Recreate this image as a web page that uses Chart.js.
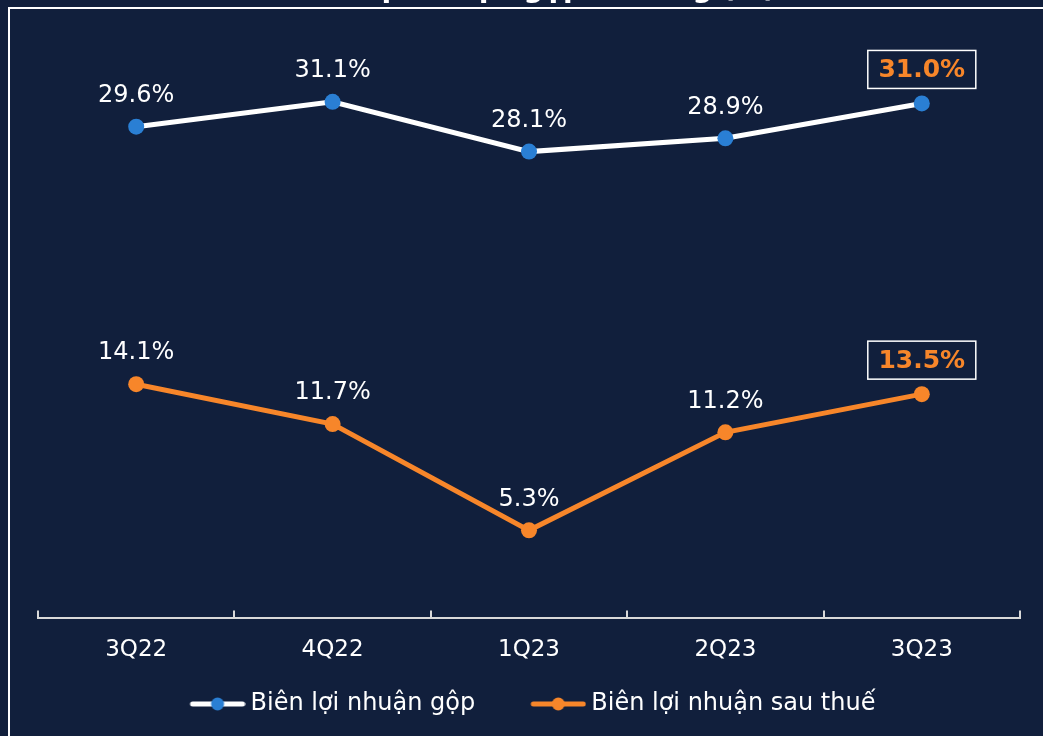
<!DOCTYPE html>
<html><head><meta charset="utf-8">
<script src="https://cdn.jsdelivr.net/npm/chart.js@4"></script>
<style>
html,body{margin:0;padding:0;background:#111f3c;overflow:hidden}
#wrap{width:1043px;height:736px;position:relative}
</style></head>
<body><div id="wrap"><canvas id="c" width="1043" height="736"></canvas></div>
<script>
const categories = ['3Q22', '4Q22', '1Q23', '2Q23', '3Q23'];
const grossMargin = [29.6, 31.1, 28.1, 28.9, 31.0];
const netMargin = [14.1, 11.7, 5.3, 11.2, 13.5];
const seriesNames = ['Biên lợi nhuận gộp', 'Biên lợi nhuận sau thuế'];
const yMin = 0, yMax = 35;
const titleText = 'Biên lợi nhuận gộp và ròng (%)';

const BG = '#111f3c', WHITE = '#ffffff', ORANGE = '#f7862a', BLUE = '#2a7fd4', AXIS = '#d9d9d9';
const FONT = "'DejaVu Sans', Verdana, sans-serif";
Chart.defaults.font.family = FONT;

const LEG_BOX = 94;          // legend box width (includes gap before the icon)
function legendIcon(lineColor, dotColor) {
  const c = document.createElement('canvas');
  c.width = LEG_BOX + 14; c.height = 16;
  const x = c.getContext('2d');
  const o = c.width - 56;
  x.strokeStyle = lineColor; x.lineWidth = 5; x.lineCap = 'round';
  x.beginPath(); x.moveTo(o + 3, 8); x.lineTo(o + 53, 8); x.stroke();
  x.fillStyle = dotColor; x.beginPath(); x.arc(o + 28, 8, 6.5, 0, Math.PI * 2); x.fill();
  return c;
}
const legendIcons = [legendIcon(WHITE, BLUE), legendIcon(ORANGE, ORANGE)];

const bgPlugin = {
  id: 'bg',
  beforeDraw(chart) {
    const ctx = chart.ctx;
    ctx.save();
    ctx.fillStyle = BG;
    ctx.fillRect(0, 0, chart.width, chart.height);
    ctx.font = 'bold 28px ' + FONT;
    ctx.fillStyle = WHITE;
    ctx.textAlign = 'right';
    ctx.textBaseline = 'alphabetic';
    ctx.fillText(titleText, 776, -3);
    ctx.strokeStyle = WHITE; ctx.lineWidth = 2;
    ctx.beginPath();
    ctx.moveTo(9, chart.height + 5); ctx.lineTo(9, 8); ctx.lineTo(chart.width + 5, 8);
    ctx.stroke();
    ctx.restore();
  },
  afterDraw(chart) {
    const sx = chart.scales.x;
    const ctx = chart.ctx;
    ctx.save();
    ctx.strokeStyle = AXIS; ctx.lineWidth = 2;
    for (let i = 0; i <= categories.length; i++) {
      const px = Math.round(sx.getPixelForValue(i - 0.5));
      ctx.beginPath(); ctx.moveTo(px, sx.top); ctx.lineTo(px, sx.top - 8); ctx.stroke();
    }
    ctx.restore();
  }
};

const labelPlugin = {
  id: 'vals',
  afterDatasetsDraw(chart) {
    const ctx = chart.ctx;
    ctx.save();
    ctx.textAlign = 'center';
    ctx.textBaseline = 'middle';
    chart.data.datasets.forEach((ds, di) => {
      const meta = chart.getDatasetMeta(di);
      meta.data.forEach((pt, i) => {
        const txt = ds.data[i].toFixed(1) + '%';
        const last = i === ds.data.length - 1;
        if (last) {
          const cy = pt.y - 34;
          ctx.fillStyle = BG;
          ctx.fillRect(pt.x - 54, cy - 19, 108, 38);
          ctx.strokeStyle = WHITE; ctx.lineWidth = 1.5;
          ctx.strokeRect(pt.x - 54, cy - 19, 108, 38);
          ctx.font = 'bold 25px ' + FONT;
          ctx.fillStyle = ORANGE;
          ctx.fillText(txt, pt.x, cy + 1);
        } else {
          ctx.font = '24px ' + FONT;
          ctx.fillStyle = WHITE;
          ctx.fillText(txt, pt.x, pt.y - 31);
        }
      });
    });
    ctx.restore();
  }
};

new Chart(document.getElementById('c'), {
  type: 'line',
  data: {
    labels: categories,
    datasets: [
      {
        label: seriesNames[0], data: grossMargin,
        borderColor: WHITE, borderWidth: 5, backgroundColor: BLUE,
        pointBackgroundColor: BLUE, pointBorderWidth: 0, pointRadius: 8,
        pointStyle: 'circle', tension: 0
      },
      {
        label: seriesNames[1], data: netMargin,
        borderColor: ORANGE, borderWidth: 5, backgroundColor: ORANGE,
        pointBackgroundColor: ORANGE, pointBorderWidth: 0, pointRadius: 8,
        pointStyle: 'circle', tension: 0
      }
    ]
  },
  options: {
    responsive: false,
    devicePixelRatio: 1,
    animation: false,
    layout: { padding: { left: 0, right: 23, top: 37, bottom: 10 } },
    scales: {
      x: {
        offset: true,
        grid: { display: false, drawTicks: false },
        border: { display: true, color: AXIS, width: 2 },
        ticks: { color: WHITE, font: { size: 23 }, padding: 18 }
      },
      y: {
        display: true, min: yMin, max: yMax,
        grid: { display: false, drawTicks: false },
        border: { display: false },
        ticks: { display: false },
        afterFit(scale) { scale.width = 38; }
      }
    },
    plugins: {
      legend: {
        position: 'bottom',
        labels: {
          color: WHITE, font: { size: 24 }, usePointStyle: true,
          pointStyleWidth: LEG_BOX, padding: 10,
          generateLabels(chart) {
            return chart.data.datasets.map((ds, i) => ({
              text: ds.label, fontColor: WHITE, pointStyle: legendIcons[i],
              datasetIndex: i, lineWidth: 0, strokeStyle: 'transparent', fillStyle: 'transparent'
            }));
          }
        }
      },
      tooltip: { enabled: false }
    }
  },
  plugins: [bgPlugin, labelPlugin]
});
</script>
</body></html>
